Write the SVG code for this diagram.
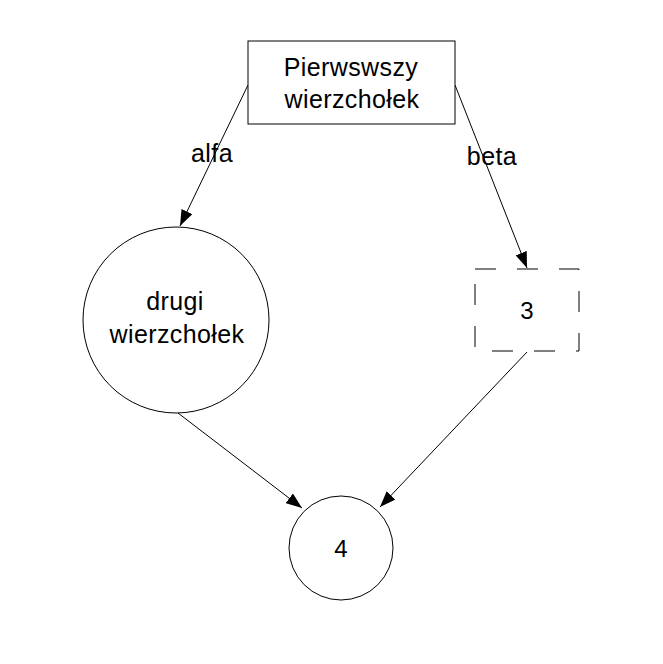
<svg xmlns="http://www.w3.org/2000/svg" width="663" height="664" viewBox="0 0 663 664">
<style>
.s{fill:#fff;stroke:#000;stroke-width:1}
.t{font-family:"Liberation Sans",Arial,sans-serif;font-size:25px;letter-spacing:0.4px;fill:#000;text-anchor:middle}
.n{font-family:"Liberation Sans",Arial,sans-serif;font-size:24px;fill:#000;text-anchor:middle}
.e{stroke:#000;stroke-width:1;fill:none;marker-end:url(#a)}
</style>
<defs>
<marker id="a" markerWidth="16" markerHeight="12" refX="16" refY="6" orient="auto" markerUnits="userSpaceOnUse">
<path d="M0,0 L16,6 L0,12 Z" fill="#000"/>
</marker>
</defs>
<rect width="663" height="664" fill="#fff"/>
<g id="connectors">
<line class="e" x1="248" y1="85" x2="180" y2="226"/>
<line class="e" x1="455" y1="85" x2="527" y2="268"/>
<line class="e" x1="527" y1="352" x2="380" y2="507"/>
<line class="e" x1="178" y1="413" x2="302" y2="508"/>
<text class="t" x="212" y="162">alfa</text>
<text class="t" x="492" y="165">beta</text>
</g>
<g id="n1">
<rect class="s" x="248" y="41" width="207" height="83"/>
<text class="t" x="351" y="76">Pierwswszy</text>
<text class="t" x="352" y="108">wierzchołek</text>
</g>
<g id="n2">
<circle class="s" cx="176" cy="320" r="93"/>
<text class="t" x="175" y="310">drugi</text>
<text class="t" x="177" y="343">wierzchołek</text>
</g>
<g id="n3">
<rect class="s" x="475" y="269" width="104" height="82" stroke-dasharray="21 21"/>
<text class="n" x="527" y="319">3</text>
</g>
<g id="n4">
<circle class="s" cx="341" cy="548" r="52"/>
<text class="n" x="341" y="557">4</text>
</g>
</svg>
